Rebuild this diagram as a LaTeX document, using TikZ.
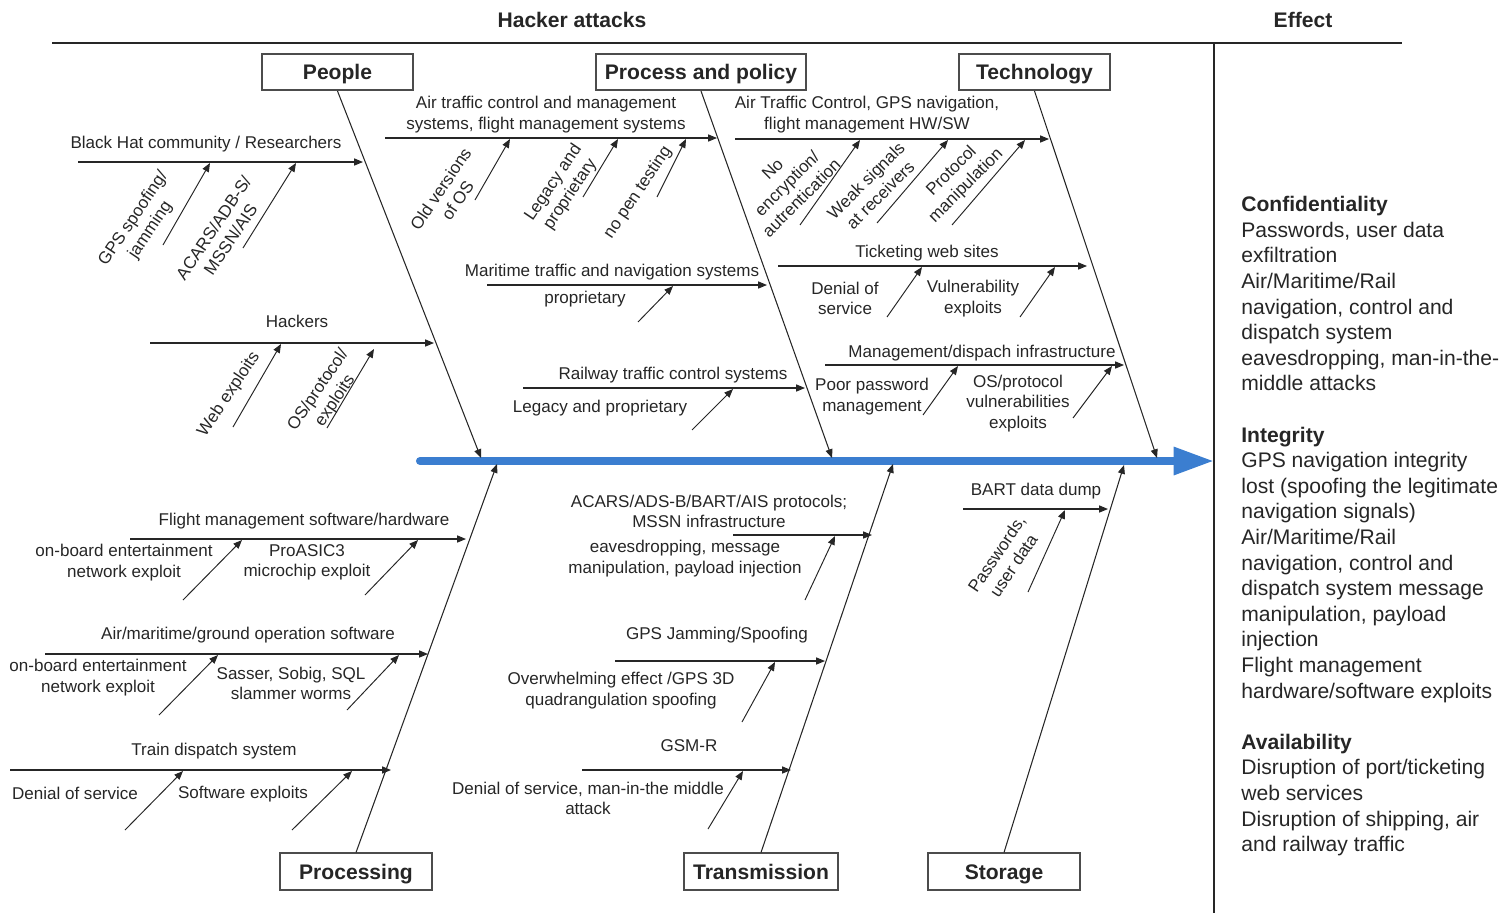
\documentclass[tikz,border=0pt]{standalone}
\usepackage{fontspec}
\setmainfont{Liberation Sans}
\usetikzlibrary{arrows.meta}
\definecolor{spineblue}{HTML}{3B7ED0}
\definecolor{ink}{HTML}{262626}

\begin{document}
\begin{tikzpicture}[x=0.02cm,y=-0.02cm,
  lbl/.style={font=\fontsize{9.7}{11.6}\selectfont, text=ink, align=center, inner sep=0pt, yshift=-0.9pt},
  rlbl/.style={lbl, rotate=56},
  tlbl/.style={lbl, rotate=45},
  cat/.style={draw=black!70, line width=0.9pt, fill=white,
    font=\fontsize{12}{14}\selectfont\bfseries, text=ink,
    text height=8.7pt, text depth=0pt,
    minimum height=0.73cm, inner sep=0pt},
  bone/.style={draw=ink, line width=0.6pt, -{Triangle[length=5pt,width=4pt]}},
  twig/.style={draw=ink, line width=0.55pt, -{Triangle[length=5pt,width=4pt]}},
  frame/.style={draw=ink, line width=1.1pt},
  hdr/.style={font=\fontsize{12}{14}\selectfont\bfseries, text=ink, inner sep=0pt}
]
\useasboundingbox (0,0) rectangle (1510,913);

% ---- headings and frame ----
\node[hdr] (hattack) at (572,20) {Hacker attacks};
\node[hdr] (heffect) at (1303,20) {Effect};
\coordinate (fl) at (52,43);
\coordinate (fr) at (1402,43);
\coordinate (vt) at (1214,43);
\coordinate (vb) at (1214,913);
\draw[frame] (fl) -- (fr);
\draw[frame] (vt) -- (vb);

% ---- spine ----
\coordinate (tail) at (420,461);
\coordinate (head) at (1214,461);
\draw[line width=4.6pt, spineblue, line cap=round, -{Triangle[length=23pt,width=15pt]}] (tail) -- (head);

% ---- category boxes ----
\node[cat, minimum width=3.02cm] (people) at (337.5,72) {People};
\node[cat, minimum width=4.2cm] (policy) at (701,72) {Process and policy};
\node[cat, minimum width=3.02cm] (tech) at (1034.5,72) {Technology};
\node[cat, minimum width=3.04cm] (processing) at (356,871.5) {Processing};
\node[cat, minimum width=3.08cm] (transmission) at (761,871.5) {Transmission};
\node[cat, minimum width=3.04cm] (storage) at (1004,871.5) {Storage};

% ---- main bones ----
\coordinate (pE) at (481,458);
\coordinate (qE) at (832,458);
\coordinate (tE) at (1157,458);
\coordinate (rE) at (497,464);
\coordinate (sE) at (893,464);
\coordinate (uE) at (1124,465);
\draw[bone] (people.south) -- (pE);
\draw[bone] (policy.south) -- (qE);
\draw[bone] (tech.south) -- (tE);
\draw[bone] (processing.north) -- (rE);
\draw[bone] (transmission.north) -- (sE);
\draw[bone] (storage.north) -- (uE);

% ================= People =================
\coordinate (bh0) at (78,162);   \coordinate (bh1) at (363,162);
\draw[bone] (bh0) -- (bh1);
\node[lbl] (lBH) at (206,143) {Black Hat community / Researchers};
\coordinate (gs0) at (163,245);  \coordinate (gs1) at (210,163);
\draw[twig] (gs0) -- (gs1);
\node[rlbl] (lGS) at (142,223) {GPS spoofing/\\jamming};
\coordinate (ac0) at (243,248);  \coordinate (ac1) at (296,163);
\draw[twig] (ac0) -- (ac1);
\node[rlbl] (lAC) at (222,232) {ACARS/ADB-S/\\MSSN/AIS};

\coordinate (hk0) at (150,343);  \coordinate (hk1) at (434,343);
\draw[bone] (hk0) -- (hk1);
\node[lbl] (lHK) at (297,320) {Hackers};
\coordinate (we0) at (233,427);  \coordinate (we1) at (281,344);
\draw[twig] (we0) -- (we1);
\node[rlbl] (lWE) at (229,393) {Web exploits};
\coordinate (op0) at (327,428);  \coordinate (op1) at (374,349);
\draw[twig] (op0) -- (op1);
\node[rlbl] (lOS) at (327,394) {OS/protocol/\\exploits};

% ================= Process and policy =================
\coordinate (at0) at (385,138);  \coordinate (at1) at (717,138);
\draw[bone] (at0) -- (at1);
\node[lbl] (lATC) at (546,113) {Air traffic control and management\\systems, flight management systems};
\coordinate (ov0) at (475,200);  \coordinate (ov1) at (510,139);
\draw[twig] (ov0) -- (ov1);
\node[rlbl] (lOV) at (449,193) {Old versions\\of OS};
\coordinate (lp0) at (583,197);  \coordinate (lp1) at (618,139);
\draw[twig] (lp0) -- (lp1);
\node[rlbl] (lLP) at (562,187) {Legacy and\\proprietary};
\coordinate (np0) at (657,197);  \coordinate (np1) at (686,139);
\draw[twig] (np0) -- (np1);
\node[rlbl] (lNP) at (638,191) {no pen testing};

\coordinate (mt0) at (487,285);  \coordinate (mt1) at (767,285);
\draw[bone] (mt0) -- (mt1);
\node[lbl] (lMT) at (612,271) {Maritime traffic and navigation systems};
\node[lbl] (lPR) at (585,298) {proprietary};
\coordinate (pr0) at (638,322);  \coordinate (pr1) at (673,286);
\draw[twig] (pr0) -- (pr1);

\coordinate (rw0) at (523,388);  \coordinate (rw1) at (805,388);
\draw[bone] (rw0) -- (rw1);
\node[lbl] (lRW) at (673,374) {Railway traffic control systems};
\node[lbl] (lLG) at (600,407) {Legacy and proprietary};
\coordinate (lg0) at (692,430);  \coordinate (lg1) at (733,389);
\draw[twig] (lg0) -- (lg1);

% ================= Technology =================
\coordinate (ag0) at (735,139);  \coordinate (ag1) at (1049,139);
\draw[bone] (ag0) -- (ag1);
\node[lbl] (lAG) at (867,113) {Air Traffic Control, GPS navigation,\\flight management HW/SW};
\coordinate (ne0) at (800,225);  \coordinate (ne1) at (860,140);
\draw[twig] (ne0) -- (ne1);
\node[tlbl] (lNE) at (787,182) {No\\encryption/\\autrentication};
\coordinate (ws0) at (877,223);  \coordinate (ws1) at (948,140);
\draw[twig] (ws0) -- (ws1);
\node[tlbl] (lWS) at (873,186) {Weak signals\\at receivers};
\coordinate (pm0) at (952,225);  \coordinate (pm1) at (1025,140);
\draw[twig] (pm0) -- (pm1);
\node[tlbl] (lPM) at (959,177) {Protocol\\manipulation};

\coordinate (tw0) at (778,266);  \coordinate (tw1) at (1087,266);
\draw[bone] (tw0) -- (tw1);
\node[lbl] (lTW) at (927,252) {Ticketing web sites};
\node[lbl] (lDS) at (845,297) {Denial of\\service};
\coordinate (ds0) at (887,317);  \coordinate (ds1) at (922,267);
\draw[twig] (ds0) -- (ds1);
\node[lbl] (lVE) at (973,297) {Vulnerability\\exploits};
\coordinate (ve0) at (1020,317); \coordinate (ve1) at (1055,267);
\draw[twig] (ve0) -- (ve1);

\coordinate (md0) at (825,365);  \coordinate (md1) at (1124,365);
\draw[bone] (md0) -- (md1);
\node[lbl] (lMD) at (982,352) {Management/dispach infrastructure};
\node[lbl] (lPP) at (872,395) {Poor password\\management};
\coordinate (pp0) at (923,415);  \coordinate (pp1) at (958,366);
\draw[twig] (pp0) -- (pp1);
\node[lbl] (lOV2) at (1018,402) {OS/protocol\\vulnerabilities\\exploits};
\coordinate (vx0) at (1073,418); \coordinate (vx1) at (1112,366);
\draw[twig] (vx0) -- (vx1);

% ================= Processing =================
\coordinate (fm0) at (130,539);  \coordinate (fm1) at (466,539);
\draw[bone] (fm0) -- (fm1);
\node[lbl] (lFM) at (304,520) {Flight management software/hardware};
\node[lbl] (lOB1) at (124,561) {on-board entertainment\\network exploit};
\coordinate (ob0) at (183,600);  \coordinate (ob1) at (242,540);
\draw[twig] (ob0) -- (ob1);
\node[lbl] (lPA) at (307,561) {ProASIC3\\microchip exploit};
\coordinate (pa0) at (365,595);  \coordinate (pa1) at (418,540);
\draw[twig] (pa0) -- (pa1);

\coordinate (am0) at (45,654);   \coordinate (am1) at (428,654);
\draw[bone] (am0) -- (am1);
\node[lbl] (lAM) at (248,634) {Air/maritime/ground operation software};
\node[lbl] (lOB2) at (98,676) {on-board entertainment\\network exploit};
\coordinate (oc0) at (159,715);  \coordinate (oc1) at (218,655);
\draw[twig] (oc0) -- (oc1);
\node[lbl] (lSS) at (291,682) {Sasser, Sobig, SQL\\slammer worms};
\coordinate (ss0) at (347,710);  \coordinate (ss1) at (399,655);
\draw[twig] (ss0) -- (ss1);

\coordinate (td0) at (10,770);   \coordinate (td1) at (391,770);
\draw[bone] (td0) -- (td1);
\node[lbl] (lTD) at (214,749) {Train dispatch system};
\node[lbl] (lDoS) at (75,792) {Denial of service};
\coordinate (do0) at (125,830);  \coordinate (do1) at (183,771);
\draw[twig] (do0) -- (do1);
\node[lbl] (lSE) at (243,792) {Software exploits};
\coordinate (se0) at (292,830);  \coordinate (se1) at (352,771);
\draw[twig] (se0) -- (se1);

% ================= Transmission =================
\coordinate (ap0) at (733,535);  \coordinate (ap1) at (872,535);
\draw[bone] (ap0) -- (ap1);
\node[lbl] (lAP) at (709,510) {ACARS/ADS-B/BART/AIS protocols;\\MSSN infrastructure};
\node[lbl] (lEM) at (685,557) {eavesdropping, message\\manipulation, payload injection};
\coordinate (em0) at (805,600);  \coordinate (em1) at (835,536);
\draw[twig] (em0) -- (em1);

\coordinate (gj0) at (615,661);  \coordinate (gj1) at (825,661);
\draw[bone] (gj0) -- (gj1);
\node[lbl] (lGJ) at (717,634) {GPS Jamming/Spoofing};
\node[lbl] (lOW) at (621,689) {Overwhelming effect /GPS 3D\\quadrangulation spoofing};
\coordinate (ow0) at (742,722);  \coordinate (ow1) at (775,662);
\draw[twig] (ow0) -- (ow1);

\coordinate (gr0) at (582,770);  \coordinate (gr1) at (791,770);
\draw[bone] (gr0) -- (gr1);
\node[lbl] (lGR) at (689,744) {GSM-R};
\node[lbl] (lDM) at (588,797) {Denial of service, man-in-the middle\\attack};
\coordinate (dm0) at (708,829);  \coordinate (dm1) at (743,771);
\draw[twig] (dm0) -- (dm1);

% ================= Storage =================
\coordinate (bd0) at (963,509);  \coordinate (bd1) at (1108,509);
\draw[bone] (bd0) -- (bd1);
\node[lbl] (lBD) at (1036,490) {BART data dump};
\coordinate (pw0) at (1028,592); \coordinate (pw1) at (1065,510);
\draw[twig] (pw0) -- (pw1);
\node[rlbl] (lPW) at (1005,558) {Passwords,\\user data};

% ================= Effects =================
\node[anchor=north west, align=left, inner sep=0pt, text=ink,
      font=\fontsize{12}{14.57}\selectfont] (effects) at (1241,196)
{\textbf{Confidentiality}\\
Passwords, user data\\
exfiltration\\
Air/Maritime/Rail\\
navigation, control and\\
dispatch system\\
eavesdropping, man-in-the-\\
middle attacks\\[14.57pt]
\textbf{Integrity}\\
GPS navigation integrity\\
lost (spoofing the legitimate\\
navigation signals)\\
Air/Maritime/Rail\\
navigation, control and\\
dispatch system message\\
manipulation, payload\\
injection\\
Flight management\\
hardware/software exploits\\[14.57pt]
\textbf{Availability}\\
Disruption of port/ticketing\\
web services\\
Disruption of shipping, air\\
and railway traffic};
\end{tikzpicture}
\end{document}
